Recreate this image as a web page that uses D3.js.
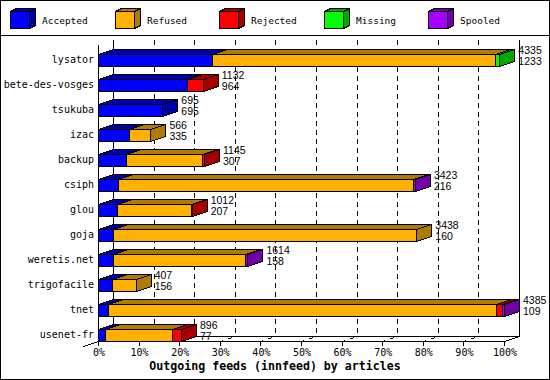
<!DOCTYPE html>
<html>
<head>
<meta charset="utf-8">
<script src="https://cdn.jsdelivr.net/npm/d3@7"></script>
<style>
  html, body { margin: 0; padding: 0; background: #fff; }
  svg { display: block; }
</style>
</head>
<body>
<script>
// ---- data ----
const categories = ["lysator", "bete-des-vosges", "tsukuba", "izac", "backup", "csiph",
                    "glou", "goja", "weretis.net", "trigofacile", "tnet", "usenet-fr"];
const accepted = [1233, 964, 695, 335, 307, 216, 207, 160, 158, 156, 109, 77];
const refused  = [3055,   0,   0, 231, 818, 3187, 793, 3278, 1431, 251, 4189, 727];
const rejected = [   0, 168,   0,   0,  20,    0,  12,    0,    0,   0,   60,  92];
const missing  = [  47,   0,   0,   0,   0,    0,   0,    0,    0,   0,    0,   0];
const spooled  = [   0,   0,   0,   0,   0,   20,   0,    0,   25,   0,   27,   0];
const seriesNames = ["Accepted", "Refused", "Rejected", "Missing", "Spooled"];
const xTickValues = [0, 10, 20, 30, 40, 50, 60, 70, 80, 90, 100];
const xTitle = "Outgoing feeds (innfeed) by articles";

// ---- styles ----
const seriesColors = ["#0000ff", "#ffb000", "#ff0000", "#00ff00", "#a800ff"];
const seriesDark   = ["#0000a8", "#b07c00", "#a80000", "#00a800", "#7000a8"];
const W = 550, H = 380;
const DX = 15, DY = -5;
const FLOOR = 341;
const monoFont = "'DejaVu Sans Mono', monospace";

const series = [accepted, refused, rejected, missing, spooled];
const totals = categories.map((c, i) => d3.sum(series, s => s[i]));
const maxTotal = d3.max(totals);

const x = d3.scaleLinear().domain([0, maxTotal]).range([98, 504]);
const xp = d3.scaleLinear().domain([0, 100]).range([98, 504]);
const y = d3.scaleBand().domain(categories).range([47, 347]);

const snap = v => Math.round(v) + 0.5;

const svg = d3.select("body").append("svg")
  .attr("width", W).attr("height", H)
  .attr("shape-rendering", "crispEdges");

// frame
svg.append("rect").attr("x", 0.5).attr("y", 0.5).attr("width", W - 1).attr("height", H - 1)
  .attr("fill", "#fff").attr("stroke", "#000");
svg.append("line").attr("x1", 0).attr("x2", W).attr("y1", 35.5).attr("y2", 35.5).attr("stroke", "#000");

// legend
const leg = svg.append("g");
seriesNames.forEach((name, k) => {
  const bx = 10 + Math.round(k * 104.5), by = 11, bw = 19, bh = 17, ldx = 6, ldy = -3;
  const g = leg.append("g");
  g.append("polygon")
    .attr("points", [[bx, by], [bx + bw, by], [bx + bw + ldx, by + ldy], [bx + ldx, by + ldy]].map(p => p.map(snap).join(",")).join(" "))
    .attr("fill", seriesDark[k]).attr("stroke", "#000");
  g.append("polygon")
    .attr("points", [[bx + bw, by], [bx + bw + ldx, by + ldy], [bx + bw + ldx, by + bh + ldy], [bx + bw, by + bh]].map(p => p.map(snap).join(",")).join(" "))
    .attr("fill", seriesDark[k]).attr("stroke", "#000");
  g.append("rect").attr("x", snap(bx)).attr("y", snap(by)).attr("width", bw).attr("height", bh)
    .attr("fill", seriesColors[k]).attr("stroke", "#000");
  g.append("text").attr("x", bx + 32).attr("y", 24)
    .attr("font-family", monoFont).attr("font-size", "9.5px").attr("fill", "#000")
    .text(name);
});

// back-wall dashed gridlines
xTickValues.filter(t => t > 0 && t < 100).forEach(t => {
  svg.append("line")
    .attr("x1", snap(xp(t) + DX)).attr("x2", snap(xp(t) + DX))
    .attr("y1", 40).attr("y2", FLOOR + DY)
    .attr("stroke", "#000").attr("stroke-dasharray", "5,4");
});

// walls / floor
const axes = svg.append("g").attr("stroke", "#000").attr("fill", "none");
axes.append("line").attr("x1", snap(xp(0) + DX)).attr("x2", snap(xp(0) + DX)).attr("y1", 40).attr("y2", snap(FLOOR + DY));
axes.append("line").attr("x1", snap(xp(100) + DX)).attr("x2", snap(xp(100) + DX)).attr("y1", 40).attr("y2", snap(FLOOR + DY));
axes.append("line").attr("x1", snap(xp(0) + DX)).attr("x2", snap(xp(100) + DX)).attr("y1", snap(FLOOR + DY)).attr("y2", snap(FLOOR + DY));
axes.append("line").attr("x1", snap(xp(0))).attr("x2", snap(xp(100))).attr("y1", snap(FLOOR)).attr("y2", snap(FLOOR));
axes.append("line").attr("x1", snap(xp(0))).attr("x2", snap(xp(0))).attr("y1", 45).attr("y2", snap(FLOOR));
axes.append("line").attr("x1", snap(xp(100))).attr("y1", snap(FLOOR)).attr("x2", snap(xp(100) + DX)).attr("y2", snap(FLOOR + DY));
axes.append("line").attr("x1", snap(xp(0) - DX)).attr("y1", snap(FLOOR - DY)).attr("x2", snap(xp(0))).attr("y2", snap(FLOOR));

// ticks and tick labels
xTickValues.forEach(t => {
  const xf = xp(t);
  axes.append("line").attr("x1", snap(xf)).attr("x2", snap(xf)).attr("y1", snap(FLOOR)).attr("y2", snap(FLOOR + 4));
  if (t > 0 && t < 100) {
    axes.append("line").attr("x1", snap(xf)).attr("y1", snap(FLOOR))
      .attr("x2", snap(xf + DX)).attr("y2", snap(FLOOR + DY))
      .attr("stroke-dasharray", "3,5,4,10");
  }
  svg.append("text").attr("x", xf + 1).attr("y", 356).attr("text-anchor", "middle")
    .attr("font-family", monoFont).attr("font-size", "10px").attr("fill", "#000")
    .text(t + "%");
});

// bars
categories.forEach((c, i) => {
  const cy = y(c) + y.bandwidth() / 2;
  const top = Math.round(cy - 6) + 0.5, h = 12;
  const bot = top + h;
  let cum = 0;
  series.forEach((s, k) => {
    const v = s[i];
    if (v <= 0) return;
    const x0 = snap(x(cum)), x1 = Math.max(snap(x(cum + v)), x0 + 1);
    cum += v;
    const g = svg.append("g").attr("stroke", "#000");
    g.append("polygon")
      .attr("points", [[x0, top], [x1, top], [x1 + DX, top + DY], [x0 + DX, top + DY]].map(p => p.join(",")).join(" "))
      .attr("fill", seriesDark[k]);
    g.append("polygon")
      .attr("points", [[x1, top], [x1 + DX, top + DY], [x1 + DX, bot + DY], [x1, bot]].map(p => p.join(",")).join(" "))
      .attr("fill", seriesDark[k]);
    g.append("rect").attr("x", x0).attr("y", top).attr("width", x1 - x0).attr("height", h)
      .attr("fill", seriesColors[k]);
  });
  // category label
  svg.append("text").attr("x", 94).attr("y", cy + 3).attr("text-anchor", "end")
    .attr("font-family", monoFont).attr("font-size", "10px").attr("fill", "#000")
    .text(c);
  // value labels
  const lx = x(totals[i]) + DX + 4;
  svg.append("text").attr("x", lx).attr("y", cy - 6)
    .attr("font-family", "'Liberation Sans', Arial, sans-serif").attr("font-size", "10.5px").attr("fill", "#000")
    .text(totals[i]);
  svg.append("text").attr("x", lx).attr("y", cy + 5.5)
    .attr("font-family", "'Liberation Sans', Arial, sans-serif").attr("font-size", "10.5px").attr("fill", "#000")
    .text(accepted[i]);
});

// axis title
svg.append("text").attr("x", 275).attr("y", 370).attr("text-anchor", "middle")
  .attr("font-family", monoFont).attr("font-size", "11.6px").attr("font-weight", "bold").attr("fill", "#000")
  .text(xTitle);
</script>
</body>
</html>
